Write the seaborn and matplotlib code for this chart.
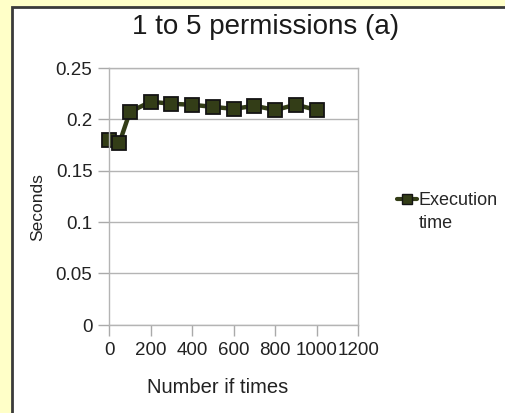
import matplotlib
matplotlib.use("Agg")
import matplotlib.pyplot as plt
import seaborn as sns
import pandas as pd
from matplotlib.lines import Line2D

# values
times = [0, 50, 100, 200, 300, 400, 500, 600, 700, 800, 900, 1000]
seconds = [0.180, 0.177, 0.207, 0.217, 0.215, 0.214, 0.212, 0.210, 0.213, 0.209, 0.214, 0.209]
x_ticks = [0, 200, 400, 600, 800, 1000, 1200]
y_ticks = [0, 0.05, 0.1, 0.15, 0.2, 0.25]
y_tick_labels = ["0", "0.05", "0.1", "0.15", "0.2", "0.25"]

df = pd.DataFrame({"Number if times": times, "Seconds": seconds})

sns.set_style("white")
plt.rcParams['font.family'] = ['Liberation Sans', 'DejaVu Sans']

W, H = 505, 413
# small extra so float rounding does not drop a pixel row/column
fig = plt.figure(figsize=((W + 0.3) / 100, (H + 0.3) / 100), dpi=100)
fig.patch.set_facecolor('#FFFFC8')
fig.patch.set_linewidth(0)

# white card, its right and bottom edges lie outside the picture
fig.patches.append(plt.Rectangle((12 / W, -0.5), 2, 0.5 + 1 - 7 / H, transform=fig.transFigure,
                                 facecolor='white', edgecolor='#3a3a3a', lw=2, zorder=-5))

ax = fig.add_axes([109 / W, 1 - 325 / H, 249 / W, 257 / H])
ax.set_facecolor('white')

line_col = '#333d17'
sns.lineplot(data=df, x="Number if times", y="Seconds", ax=ax, color=line_col,
             lw=3.2, marker='s', markersize=10.5, markerfacecolor=line_col,
             markeredgecolor='#141414', markeredgewidth=1.3, clip_on=False)

ax.set_xlim(0, 1200)
ax.set_ylim(0, 0.25)
ax.set_xticks(x_ticks)
ax.set_xticklabels([str(t) for t in x_ticks], fontsize=13.5, color='#222222')
ax.set_yticks(y_ticks)
ax.set_yticklabels(y_tick_labels, fontsize=13.5, color='#222222')
ax.tick_params(axis='both', direction='out', length=8, width=1, color='#aaaaaa',
               bottom=True, left=True, pad=4)
ax.grid(axis='y', color='#b4b4b4', lw=1)
for side in ['left', 'right', 'top', 'bottom']:
    ax.spines[side].set_visible(True)
    ax.spines[side].set_color('#b4b4b4')
    ax.spines[side].set_linewidth(1)

ax.set_xlabel("Number if times", fontsize=14.5, color='#222222', va='center')
ax.xaxis.set_label_coords(0.434, -0.241)
ax.set_ylabel("Seconds", fontsize=12.5, color='#222222', va='center')
ax.yaxis.set_label_coords(-0.285, 0.46)

fig.text(265 / W, 1 - 27 / H, "1 to 5 permissions (a)", fontsize=20,
         ha='center', va='center', color='#1a1a1a')

# legend: marker on first line, label wraps onto a second line
handles = [Line2D([], [], color=line_col, lw=3, marker='s', markersize=7,
                  markerfacecolor=line_col, markeredgecolor='#141414'),
           Line2D([], [], alpha=0)]
ax.legend(handles, ["Execution", "time"], loc='upper left',
          bbox_to_anchor=(397 / W, 1 - 192 / H), bbox_transform=fig.transFigure,
          frameon=False, fontsize=13, handlelength=1.1, handletextpad=0.1,
          labelspacing=0.35, borderpad=0, borderaxespad=0)

fig.savefig("out.png", dpi=100, facecolor=fig.get_facecolor())
